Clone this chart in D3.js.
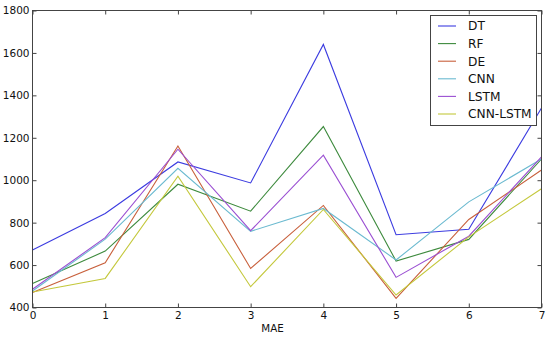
<!DOCTYPE html>
<html>
<head>
<meta charset="utf-8">
<script src="https://cdn.jsdelivr.net/npm/d3@7"></script>
<style>
  body { margin: 0; background: #fff; }
  text { font-family: "DejaVu Sans", sans-serif; }
</style>
</head>
<body>
<script>
// data
const xs = [0, 1, 2, 3, 4, 5, 6, 7];
const seriesNames = ["DT", "RF", "DE", "CNN", "LSTM", "CNN-LSTM"];
const dtValues      = [671, 843, 1086, 987, 1640, 743, 769, 1340];
const rfValues      = [513, 666, 981, 854, 1253, 619, 721, 1100];
const deValues      = [471, 611, 1161, 584, 881, 443, 815, 1048];
const cnnValues     = [478, 722, 1056, 759, 867, 624, 898, 1100];
const lstmValues    = [486, 729, 1146, 762, 1118, 542, 736, 1110];
const cnnLstmValues = [473, 537, 1019, 498, 862, 459, 733, 960];
const xTicks = [0, 1, 2, 3, 4, 5, 6, 7];
const yTicks = [400, 600, 800, 1000, 1200, 1400, 1600, 1800];
const colors = ["#3c3ce0", "#3d8a3d", "#c8603c", "#6bbad0", "#9a4fd2", "#c4c83c"];

const allValues = [dtValues, rfValues, deValues, cnnValues, lstmValues, cnnLstmValues];

const width = 550, height = 338;
const plotLeft = 32.5, plotRight = 541.5, plotTop = 10.5, plotBottom = 307.5;

const svg = d3.select("body").append("svg")
    .attr("width", width)
    .attr("height", height);

let x = d3.scaleLinear().domain([0, 7]).range([plotLeft, plotRight]);
let y = d3.scaleLinear().domain([400, 1800]).range([plotBottom, plotTop]);

// lines
let line = d3.line()
    .x((d, i) => x(xs[i]))
    .y(d => y(d));

svg.append("g")
  .selectAll("path")
  .data(allValues)
  .enter()
  .append("path")
    .attr("d", d => line(d))
    .attr("fill", "none")
    .attr("stroke", (d, i) => colors[i])
    .attr("stroke-width", 1.1);

// axes, ticks pointing inward on all four sides
function styleAxis(g) {
  g.select(".domain").remove();
  g.selectAll(".tick line").attr("stroke", "#444");
  g.selectAll("text")
    .attr("fill", "#111")
    .style("font-size", "10.5px");
}

svg.append("g")
    .attr("transform", `translate(0,${plotBottom})`)
    .call(d3.axisBottom(x).tickValues(xTicks).tickSize(-4).tickPadding(4).tickFormat(d3.format("d")))
    .call(styleAxis);

svg.append("g")
    .attr("transform", `translate(0,${plotTop})`)
    .call(d3.axisTop(x).tickValues(xTicks).tickSize(-4).tickFormat(""))
    .call(styleAxis);

svg.append("g")
    .attr("transform", `translate(${plotLeft},0)`)
    .call(d3.axisLeft(y).tickValues(yTicks).tickSize(-4).tickPadding(3).tickFormat(d3.format("d")))
    .call(styleAxis);

svg.append("g")
    .attr("transform", `translate(${plotRight},0)`)
    .call(d3.axisRight(y).tickValues(yTicks).tickSize(-4).tickFormat(""))
    .call(styleAxis);

// frame
svg.append("rect")
    .attr("x", plotLeft)
    .attr("y", plotTop)
    .attr("width", plotRight - plotLeft)
    .attr("height", plotBottom - plotTop)
    .attr("fill", "none")
    .attr("stroke", "#444")
    .attr("stroke-width", 1);

// x axis label
svg.append("text")
    .attr("x", 272.5)
    .attr("y", 332)
    .attr("text-anchor", "middle")
    .style("font-size", "10.3px")
    .attr("fill", "#111")
    .text("MAE");

// legend
let legend = svg.append("g");
legend.append("rect")
    .attr("x", 430.5)
    .attr("y", 15.5)
    .attr("width", 106)
    .attr("height", 110)
    .attr("fill", "#fff")
    .attr("stroke", "#444");

let items = legend.selectAll("g.item")
    .data(seriesNames)
    .enter()
    .append("g")
    .attr("class", "item")
    .attr("transform", (d, i) => `translate(0,${26 + i * 17.6})`);

items.append("line")
    .attr("x1", 438).attr("x2", 456)
    .attr("y1", 0).attr("y2", 0)
    .attr("stroke", (d, i) => colors[i])
    .attr("stroke-width", 1.1);

items.append("text")
    .attr("x", 468)
    .attr("y", 0)
    .attr("dy", "0.36em")
    .style("font-size", "12.2px")
    .attr("fill", "#111")
    .text(d => d);
</script>
</body>
</html>
